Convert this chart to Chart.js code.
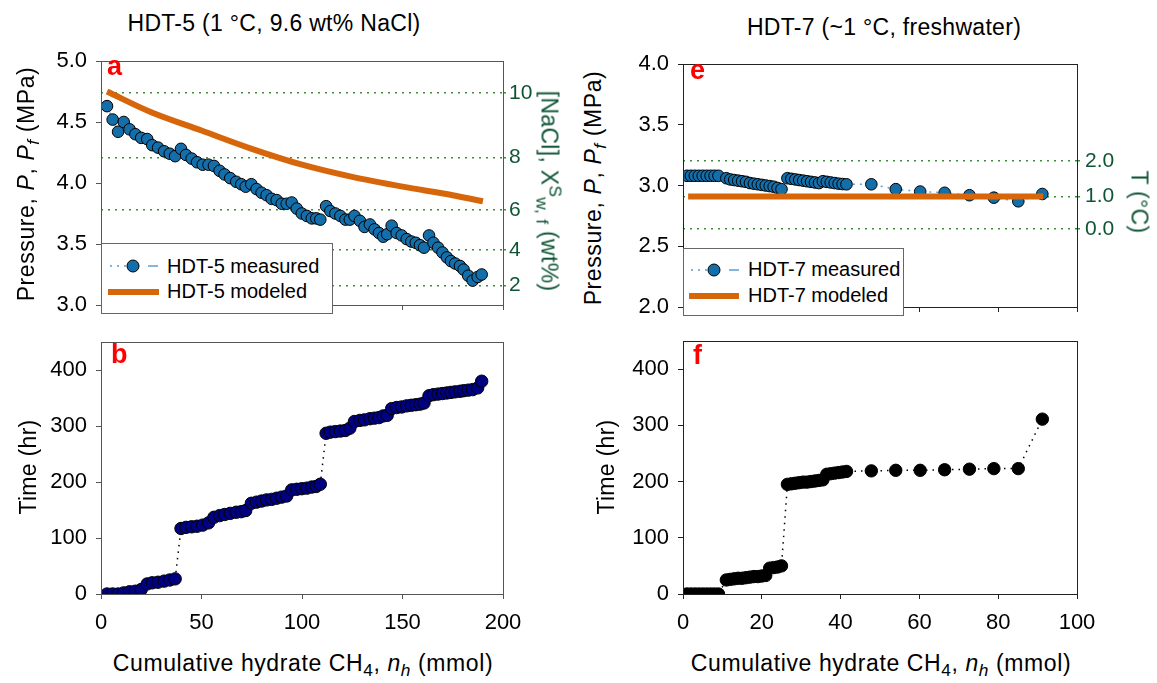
<!DOCTYPE html>
<html lang="en">
<head>
<meta charset="UTF-8">
<title>HDT-5 / HDT-7 pressure and time</title>
<script src="https://cdn.jsdelivr.net/npm/chart.js"></script>
<style>
    body {
        margin: 0;
        background: #fff;
        font-family: "Liberation Sans", Arial, sans-serif;
    }
    #page {
        position: relative;
        width: 1157px;
        height: 683px;
        overflow: hidden;
    }
    .panel { position: absolute; }
    .txt {
        position: absolute;
        white-space: nowrap;
        line-height: 1;
        color: #000;
    }
    .hc { transform: translateX(-50%); }
    .up { transform: translate(-50%, -50%) rotate(-90deg); }
    .down { transform: translate(-50%, -50%) rotate(90deg); }
    .big { font-size: 23px; letter-spacing: 0.3px; }
    .wide { letter-spacing: 0.6px; }
    .letter { font-size: 27px; font-weight: bold; color: #f00; }
    .green { color: #0f5535; }
    .sub { font-size: 0.75em; position: relative; top: 0.3em; }
    .sup { font-size: 0.75em; position: relative; top: -0.45em; }
    .legend {
        position: absolute;
        background: #fff;
        border: 1px solid #666;
        box-sizing: border-box;
    }
    .legend .item {
        position: absolute;
        font-size: 20px;
        line-height: 1;
        white-space: nowrap;
    }
    .legend svg { position: absolute; left: 0; top: 0; }
</style>
</head>
<body>
<div id="page">
    <!-- titles -->
    <div class="txt big hc" style="left:274px; top:12px;">HDT-5 (1 °C, 9.6 wt% NaCl)</div>
    <div class="txt big hc" style="left:884px; top:16px;">HDT-7 (~1 °C, freshwater)</div>

    <!-- chart canvases -->
    <div class="panel" style="left:40px; top:41px;"><canvas id="chartA" width="520" height="284"></canvas></div>
    <div class="panel" style="left:40px; top:322px;"><canvas id="chartB" width="520" height="312"></canvas></div>
    <div class="panel" style="left:620px; top:44px;"><canvas id="chartE" width="520" height="283"></canvas></div>
    <div class="panel" style="left:620px; top:321px;"><canvas id="chartF" width="520" height="313"></canvas></div>

    <!-- axis titles -->
    <div class="txt big wide up" style="left:26px; top:184px;">Pressure, <i>P</i>, <i>P<span class="sub">f</span></i> (MPa)</div>
    <div class="txt big wide up" style="left:593px; top:188px;">Pressure, <i>P</i>, <i>P<span class="sub">f</span></i> (MPa)</div>
    <div class="txt big up" style="left:28px; top:467px;">Time (hr)</div>
    <div class="txt big up" style="left:606px; top:467px;">Time (hr)</div>
    <div class="txt big down green" style="left:549px; top:191px;">[NaCl], X<span class="sup">S</span><span class="sub">w, f</span> (wt%)</div>
    <div class="txt big down green" style="left:1139px; top:202px;">T (°C)</div>
    <div class="txt big wide hc" style="left:303px; top:652px;">Cumulative hydrate CH<span class="sub">4</span>, <i>n<span class="sub">h</span></i> (mmol)</div>
    <div class="txt big wide hc" style="left:881px; top:652px;">Cumulative hydrate CH<span class="sub">4</span>, <i>n<span class="sub">h</span></i> (mmol)</div>

    <!-- panel letters -->
    <div class="txt letter" style="left:107px; top:53px;">a</div>
    <div class="txt letter" style="left:111px; top:341px;">b</div>
    <div class="txt letter" style="left:690px; top:57px;">e</div>
    <div class="txt letter" style="left:693px; top:342px;">f</div>

    <!-- legends -->
    <div class="legend" style="left:101px; top:243px; width:232px; height:71px;">
        <svg width="62" height="70">
            <line x1="8" y1="22" x2="24" y2="22" stroke="#5b9fd3" stroke-width="1.5" stroke-dasharray="2 5"/>
            <line x1="46" y1="22" x2="56" y2="22" stroke="#5b9fd3" stroke-width="1.5"/>
            <circle cx="31" cy="22" r="6" fill="#146eaa" stroke="#000" stroke-width="1"/>
            <line x1="6" y1="48" x2="57" y2="48" stroke="#d7650a" stroke-width="6"/>
        </svg>
        <div class="item" style="left:65px; top:12px;">HDT-5 measured</div>
        <div class="item" style="left:65px; top:37px;">HDT-5 modeled</div>
    </div>
    <div class="legend" style="left:683px; top:248px; width:221px; height:68px;">
        <svg width="62" height="70">
            <line x1="7" y1="21" x2="23" y2="21" stroke="#5b9fd3" stroke-width="1.5" stroke-dasharray="2 5"/>
            <line x1="45" y1="21" x2="55" y2="21" stroke="#5b9fd3" stroke-width="1.5"/>
            <circle cx="30" cy="21" r="6" fill="#146eaa" stroke="#000" stroke-width="1"/>
            <line x1="5" y1="47" x2="55" y2="47" stroke="#d7650a" stroke-width="6"/>
        </svg>
        <div class="item" style="left:64px; top:10px;">HDT-7 measured</div>
        <div class="item" style="left:64px; top:36px;">HDT-7 modeled</div>
    </div>
</div>

<script>
    // HDT-5 (9.6 wt% NaCl): cumulative hydrate CH4 (mmol), pressure (MPa), time (hr)
    const nh5 = [3.0, 5.8, 8.5, 11.3, 14.2, 17.1, 20.0, 23.0, 25.5, 28.4, 31.4, 34.2, 36.9, 39.8, 42.3, 45.1, 47.8, 50.6, 53.5, 56.2,
        59.0, 61.5, 64.3, 67.3, 69.8, 72.0, 74.8, 77.4, 79.9, 82.4, 84.9, 87.4, 89.9, 92.4, 94.9, 97.4, 99.9, 102.4, 104.9, 107.1,
        109.1, 112.0, 114.1, 116.6, 119.1, 121.6, 123.8, 126.1, 128.8, 131.1, 133.8, 136.1, 138.3, 140.4, 142.4, 144.6, 147.1, 149.6, 152.1, 154.4,
        156.6, 158.7, 160.7, 163.2, 165.4, 167.7, 169.9, 172.1, 174.1, 176.2, 178.6, 180.4, 182.7, 184.9, 187.4, 189.4];
    const p5 = [4.63, 4.52, 4.42, 4.50, 4.44, 4.40, 4.37, 4.36, 4.31, 4.29, 4.26, 4.24, 4.22, 4.28, 4.23, 4.20, 4.17, 4.15, 4.15, 4.14,
        4.10, 4.07, 4.04, 4.01, 3.99, 3.97, 3.99, 3.95, 3.92, 3.90, 3.87, 3.86, 3.83, 3.83, 3.84, 3.79, 3.75, 3.73, 3.71, 3.71,
        3.70, 3.81, 3.77, 3.75, 3.73, 3.70, 3.70, 3.73, 3.69, 3.64, 3.66, 3.62, 3.59, 3.56, 3.58, 3.65, 3.59, 3.57, 3.54, 3.52,
        3.51, 3.49, 3.47, 3.57, 3.51, 3.47, 3.43, 3.39, 3.36, 3.34, 3.32, 3.29, 3.24, 3.20, 3.23, 3.25];
    const t5 = [0, 0, 0, 2, 4, 5, 8, 18, 20, 21, 23, 25, 27, 117, 119, 120, 121, 123, 127, 137,
        140, 142, 144, 146, 147, 149, 162, 164, 166, 168, 169, 171, 173, 175, 186, 187, 188, 189, 191, 192,
        196, 287, 289, 290, 291, 292, 296, 308, 310, 311, 313, 314, 315, 318, 319, 331, 333, 334, 336, 337,
        338, 339, 341, 354, 356, 357, 358, 359, 360, 361, 362, 363, 364, 365, 368, 380];
    const nh5Model = [3, 25, 50, 75, 100, 125, 150, 175, 190];
    const p5Model = [4.75, 4.58, 4.43, 4.28, 4.15, 4.05, 3.97, 3.90, 3.85];

    // right axis of panel a: salinity ticks and the pressure they sit at
    const saltLabels = ['2', '4', '6', '8', '10'];
    const saltAtP = [3.16, 3.45, 3.78, 4.21, 4.74];

    // HDT-7 (freshwater)
    const nh7 = [1, 2, 3, 4, 5, 6, 7, 8, 9,
        11, 12, 13, 14, 15, 16, 17, 18, 19, 20, 21,
        22, 23, 24, 25,
        26.5, 27.5, 28.5, 29.5, 30.5, 31.5, 32.5, 33.5, 34.5, 35.5,
        36.5, 37.5, 38.5, 39.5, 40.5, 41.5,
        47.8, 54.0, 60.2, 66.4, 72.7, 78.9, 85.1, 91.2];
    const p7 = [3.08, 3.08, 3.08, 3.08, 3.08, 3.08, 3.08, 3.08, 3.08,
        3.06, 3.05, 3.045, 3.04, 3.035, 3.03, 3.02, 3.015, 3.01, 3.005, 3.0,
        2.995, 2.99, 2.98, 2.97,
        3.06, 3.055, 3.05, 3.045, 3.04, 3.035, 3.03, 3.025, 3.02, 3.035,
        3.03, 3.025, 3.02, 3.015, 3.012, 3.01,
        3.01, 2.97, 2.95, 2.94, 2.92, 2.90, 2.87, 2.93];
    const t7 = [0, 0, 0, 0, 0, 0, 0, 0, 0,
        25, 26, 27, 28, 28, 29, 30, 31, 31, 32, 33,
        46, 47, 48, 50,
        195, 196, 197, 198, 199, 199, 200, 201, 202, 203,
        213, 214, 215, 216, 217, 218,
        219, 220, 220, 221, 222, 223, 223, 311];
    const nh7Model = [1.3, 91.4];
    const p7Model = [2.91, 2.91];

    // right axis of panel e: temperature ticks and the pressure they sit at
    const tempLabels = ['0.0', '1.0', '2.0'];
    const tempAtP = [2.64, 2.91, 3.20];

    const timeTicks = [0, 100, 200, 300, 400];

    const blue = '#146eaa';
    const orange = '#d7650a';
    const navy = '#000080';
    const greenText = '#0f5535';
    const greenDots = '#3b8f3b';
    const tickFont = { family: '"Liberation Sans", Arial, sans-serif', size: 22, lineHeight: 1 };

    const points = (xs, ys) => xs.map((x, i) => ({ x: x, y: ys[i] }));

    // draws the box round the plot area
    const framePlugin = {
        id: 'frame',
        afterDraw(chart, args, opts) {
            const a = chart.chartArea;
            const ctx = chart.ctx;
            ctx.save();
            ctx.strokeStyle = opts.color;
            ctx.lineWidth = 1;
            ctx.strokeRect(Math.round(a.left) + 0.5, Math.round(a.top) + 0.5,
                Math.round(a.right - a.left), Math.round(a.bottom - a.top));
            ctx.restore();
        }
    };

    function baseOptions(frameColor, padRight) {
        return {
            responsive: false,
            animation: false,
            devicePixelRatio: 1,
            events: [],
            layout: { padding: { top: 12, right: padRight, left: 0, bottom: 0 } },
            plugins: {
                legend: { display: false },
                tooltip: { enabled: false },
                frame: { color: frameColor }
            }
        };
    }

    function xScale(max, step, height, showLabels, color) {
        return {
            type: 'linear', min: 0, max: max,
            afterFit: s => { s.height = height; },
            ticks: { stepSize: step, display: showLabels, font: tickFont, color: '#000', padding: 13, maxRotation: 0 },
            grid: { drawOnChartArea: false, tickLength: 5, color: color },
            border: { color: color }
        };
    }

    function yScale(min, max, width, color, extra) {
        return Object.assign({
            min: min, max: max,
            afterFit: s => { s.width = width; },
            ticks: { font: tickFont, color: '#000', padding: 9 },
            grid: { drawOnChartArea: false, tickLength: 5, color: color },
            border: { color: color }
        }, extra || {});
    }

    function rightScale(min, max, width, tickPos, labels, pad) {
        return {
            position: 'right', min: min, max: max,
            afterFit: s => { s.width = width; },
            afterBuildTicks: s => { s.ticks = tickPos.map(v => ({ value: v })); },
            ticks: { font: { family: tickFont.family, size: 21, lineHeight: 1 }, color: greenText, padding: pad,
                callback: (v, i) => labels[i] },
            grid: { color: greenDots, lineWidth: 1.5, tickLength: 3, tickColor: greenDots },
            border: { color: '#555', dash: [2, 5] }
        };
    }

    // Panel a: pressure vs hydrate, HDT-5
    const optsA = baseOptions('#555', 0);
    optsA.scales = {
        x: xScale(200, 50, 12, false, '#555'),
        y: yScale(3, 5, 61, '#555', { ticks: { stepSize: 0.5, font: tickFont, color: '#000', padding: 9, callback: v => v.toFixed(1) } }),
        y2: rightScale(3, 5, 57, saltAtP, saltLabels, 3)
    };
    new Chart(document.getElementById('chartA'), {
        type: 'scatter',
        data: {
            datasets: [{
                label: 'HDT-5 measured',
                data: points(nh5, p5),
                showLine: true,
                borderColor: '#5b9fd3', borderWidth: 1.5, borderDash: [2, 5],
                pointRadius: 5.8, pointBackgroundColor: blue, pointBorderColor: '#000', pointBorderWidth: 1,
                yAxisID: 'y'
            }, {
                label: 'HDT-5 modeled',
                data: points(nh5Model, p5Model),
                showLine: true,
                borderColor: orange, borderWidth: 6, borderCapStyle: 'butt',
                cubicInterpolationMode: 'monotone',
                pointRadius: 0,
                yAxisID: 'y'
            }]
        },
        options: optsA,
        plugins: [framePlugin]
    });

    // Panel b: time vs hydrate, HDT-5
    const optsB = baseOptions('#555', 57);
    optsB.scales = {
        x: xScale(200, 50, 40, true, '#555'),
        y: yScale(0, 450, 61, '#555', {
            afterBuildTicks: s => { s.ticks = timeTicks.map(v => ({ value: v })); }
        })
    };
    new Chart(document.getElementById('chartB'), {
        type: 'scatter',
        data: {
            datasets: [{
                label: 'HDT-5 time',
                data: points(nh5, t5),
                showLine: true,
                borderColor: '#000', borderWidth: 1.5, borderDash: [1.5, 5],
                pointRadius: 6.2, pointBackgroundColor: navy, pointBorderColor: '#000', pointBorderWidth: 1
            }]
        },
        options: optsB,
        plugins: [framePlugin]
    });

    // Panel e: pressure vs hydrate, HDT-7
    const optsE = baseOptions('#222', 0);
    optsE.scales = {
        x: xScale(100, 20, 12, false, '#222'),
        y: yScale(2, 4, 63, '#222', { ticks: { stepSize: 0.5, font: tickFont, color: '#000', padding: 9, callback: v => v.toFixed(1) } }),
        y2: rightScale(2, 4, 63, tempAtP, tempLabels, 5)
    };
    new Chart(document.getElementById('chartE'), {
        type: 'scatter',
        data: {
            datasets: [{
                label: 'HDT-7 modeled',
                data: points(nh7Model, p7Model),
                showLine: true,
                borderColor: orange, borderWidth: 6, borderCapStyle: 'butt',
                pointRadius: 0,
                yAxisID: 'y'
            }, {
                label: 'HDT-7 measured',
                data: points(nh7, p7),
                showLine: true,
                borderColor: '#5b9fd3', borderWidth: 1.5, borderDash: [2, 5],
                pointRadius: 5.8, pointBackgroundColor: blue, pointBorderColor: '#000', pointBorderWidth: 1,
                yAxisID: 'y'
            }]
        },
        options: optsE,
        plugins: [framePlugin]
    });

    // Panel f: time vs hydrate, HDT-7
    const optsF = baseOptions('#222', 63);
    optsF.scales = {
        x: xScale(100, 20, 40, true, '#222'),
        y: yScale(0, 450, 63, '#222', {
            afterBuildTicks: s => { s.ticks = timeTicks.map(v => ({ value: v })); }
        })
    };
    new Chart(document.getElementById('chartF'), {
        type: 'scatter',
        data: {
            datasets: [{
                label: 'HDT-7 time',
                data: points(nh7, t7),
                showLine: true,
                borderColor: '#000', borderWidth: 1.5, borderDash: [1.5, 5],
                pointRadius: 6.2, pointBackgroundColor: '#000', pointBorderColor: '#000', pointBorderWidth: 1
            }]
        },
        options: optsF,
        plugins: [framePlugin]
    });
</script>
</body>
</html>
